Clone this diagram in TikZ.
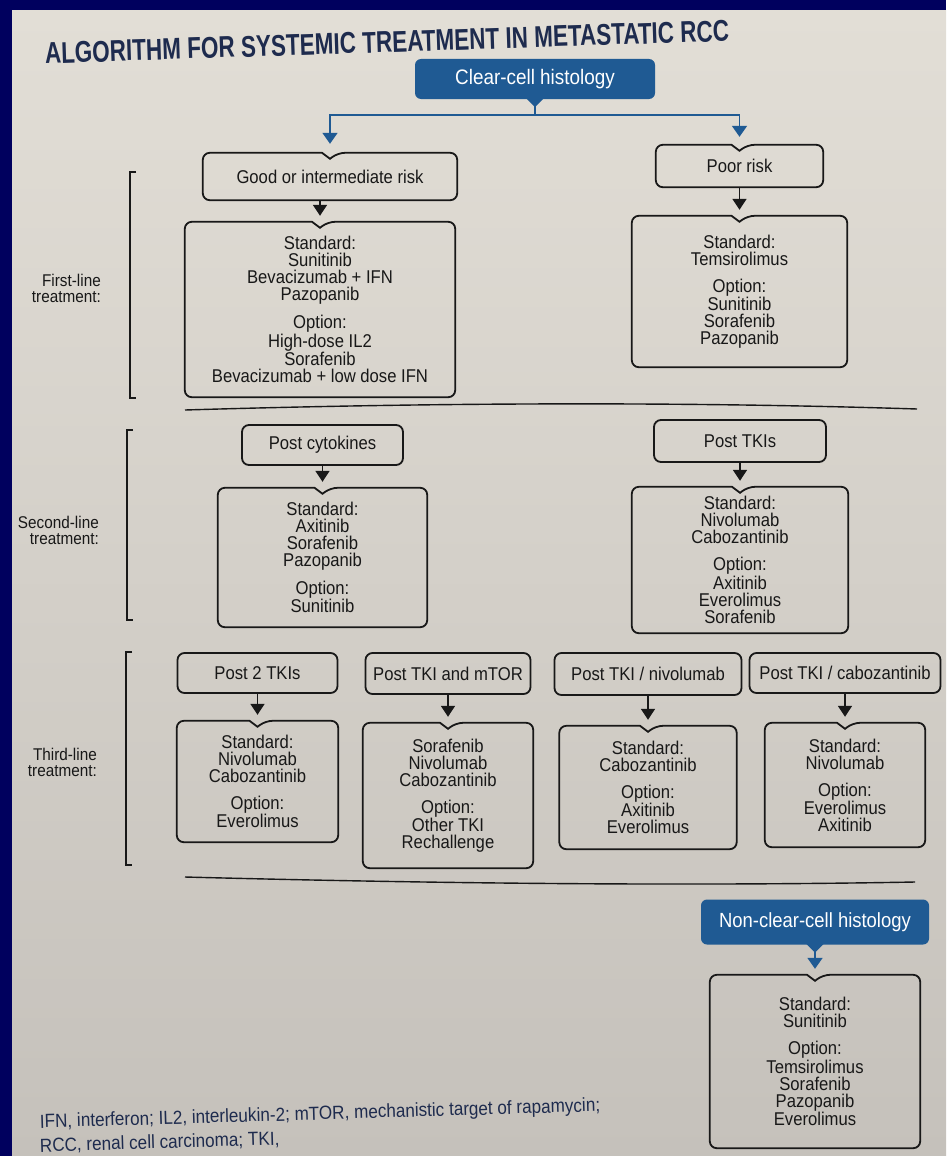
\documentclass[tikz,border=0pt]{standalone}
\usepackage{fontspec}
\setmainfont{Liberation Sans}[FakeStretch=0.9]
\newfontfamily\titlefont{Liberation Sans}[FakeStretch=0.75]
\usetikzlibrary{calc, arrows.meta}

\definecolor{navy}{HTML}{00005E}
\definecolor{paper}{HTML}{E2DED6}
\definecolor{paperdark}{HTML}{C5C1BB}
\definecolor{ccblue}{HTML}{1F5A93}
\definecolor{ink}{HTML}{181818}
\definecolor{titleink}{HTML}{1E2B4E}

\tikzset{
  boxline/.style={draw=ink, line width=1.8pt, rounded corners=7pt},
  hdr/.style={boxline, inner sep=0pt, font=\fontsize{18.5}{17}\selectfont, text=ink},
  txt/.style={inner sep=0pt, align=center, font=\fontsize{18.5}{17}\selectfont, text=ink},
  bluebox/.style={fill=ccblue, rounded corners=6pt, inner sep=0pt, text=white},
  arr/.style={draw=ink, line width=1.8pt, -{Triangle[width=14pt,length=11pt]}},
  bluearr/.style={draw=ccblue, line width=1.8pt, -{Triangle[width=15pt,length=11pt]}},
  side/.style={anchor=east, align=right, inner sep=0pt, font=\fontsize{17}{16}\selectfont, text=ink},
  foot/.style={anchor=base west, inner sep=0pt, font=\fontsize{19}{21}\selectfont, text=titleink, rotate=1.7},
}

% outline with a small notch at the top
\newcommand{\notchbox}[1]{%
  \draw[draw=ink, line width=1.8pt] ($(#1.north)+(-8,0)$) [rounded corners=7pt] -- (#1.north west) -- (#1.south west)
    -- (#1.south east) -- (#1.north east) -- ($(#1.north)+(8,0)$) [sharp corners] -- ($(#1.north)+(0,6)$) -- cycle;}

\begin{document}
\begin{tikzpicture}[x=1pt, y=-1pt]
    \clip (0,0) rectangle (946,1156);
    \fill[navy] (0,0) rectangle (946,1156);
    \shade[top color=paper, bottom color=paperdark] (12,11) rectangle (946,1156);

    \node[font=\titlefont\bfseries\fontsize{30}{32}\selectfont, text=titleink, rotate=1.9, inner sep=0pt] (title) at (387,42)
        {ALGORITHM FOR SYSTEMIC TREATMENT IN METASTATIC RCC};

    % first line
    \node[bluebox, font=\fontsize{21}{18}\selectfont, minimum width=240pt, minimum height=40pt] (clear) at (535,79) {Clear-cell histology};
    \node[txt, minimum width=254pt, minimum height=47pt] (good) at (330,176.5) {Good or intermediate risk};
    \node[txt, minimum width=270pt, minimum height=175pt] (goodtx) at (320,309.5)
        {Standard:\\Sunitinib\\Bevacizumab + IFN\\Pazopanib\\[10pt]Option:\\High-dose IL2\\Sorafenib\\Bevacizumab + low dose IFN};
    \node[txt, minimum width=167pt, minimum height=42pt] (poor) at (739.5,166) {Poor risk};
    \node[txt, minimum width=215pt, minimum height=151pt] (poortx) at (739.5,291.5)
        {Standard:\\Temsirolimus\\[10pt]Option:\\Sunitinib\\Sorafenib\\Pazopanib};

    % second line
    \node[hdr, minimum width=161pt, minimum height=40pt] (postcyt) at (322.5,445) {Post cytokines};
    \node[txt, minimum width=209pt, minimum height=139pt] (cyttx) at (322.5,557.5)
        {Standard:\\Axitinib\\Sorafenib\\Pazopanib\\[10pt]Option:\\Sunitinib};
    \node[hdr, minimum width=172pt, minimum height=42pt] (posttki) at (740,441) {Post TKIs};
    \node[txt, minimum width=216pt, minimum height=146pt] (tkitx) at (740,560)
        {Standard:\\Nivolumab\\Cabozantinib\\[10pt]Option:\\Axitinib\\Everolimus\\Sorafenib};

    % third line
    \node[hdr, minimum width=160pt, minimum height=40pt] (ptwo) at (257.5,673) {Post 2 TKIs};
    \node[txt, minimum width=161pt, minimum height=121pt] (ptwotx) at (257.5,781.5)
        {Standard:\\Nivolumab\\Cabozantinib\\[10pt]Option:\\Everolimus};
    \node[hdr, minimum width=165pt, minimum height=41pt] (ptm) at (448,673.5) {Post TKI and mTOR};
    \node[txt, minimum width=170pt, minimum height=145pt] (ptmtx) at (448,795.5)
        {Sorafenib\\Nivolumab\\Cabozantinib\\[10pt]Option:\\Other TKI\\Rechallenge};
    \node[hdr, minimum width=187pt, minimum height=42pt] (ptn) at (648,674) {Post TKI / nivolumab};
    \node[txt, minimum width=177pt, minimum height=123pt] (ptntx) at (648,787.5)
        {Standard:\\Cabozantinib\\[10pt]Option:\\Axitinib\\Everolimus};
    \node[hdr, minimum width=191pt, minimum height=40pt] (ptc) at (845,673) {Post TKI / cabozantinib};
    \node[txt, minimum width=160pt, minimum height=124pt] (ptctx) at (845,785)
        {Standard:\\Nivolumab\\[10pt]Option:\\Everolimus\\Axitinib};

    % non-clear-cell
    \node[bluebox, font=\fontsize{20.5}{18}\selectfont, minimum width=228pt, minimum height=45pt] (nonclear) at (815,922) {Non-clear-cell histology};
    \node[txt, minimum width=210pt, minimum height=173pt] (nonclrtx) at (815,1061.5)
        {Standard:\\Sunitinib\\[10pt]Option:\\Temsirolimus\\Sorafenib\\Pazopanib\\Everolimus};

    \foreach \n in {good, goodtx, poor, poortx, cyttx, tkitx, ptwotx, ptmtx, ptntx, ptctx, nonclrtx}
        \notchbox{\n};

    % blue pointers
    \foreach \b in {clear, nonclear}
        \fill[ccblue] ($(\b.south)+(-9,-1)$) -- ($(\b.south)+(9,-1)$) -- ($(\b.south)+(0,8)$) -- cycle;
    \coordinate (split) at ($(clear.south)+(0,16)$);
    \draw[draw=ccblue, line width=1.8pt] ($(clear.south)+(0,6)$) -- (split);
    \draw[bluearr] (split) -| ($(good.north)+(0,-9)$);
    \draw[bluearr] (split) -| ($(poor.north)+(0,-8)$);
    \draw[bluearr] ($(nonclear.south)+(0,6)$) -- ($(nonclrtx.north)+(0,-6)$);

    \foreach \a/\b in {good/goodtx, poor/poortx, postcyt/cyttx, posttki/tkitx, ptwo/ptwotx, ptm/ptmtx, ptn/ptntx, ptc/ptctx}
        \draw[arr] (\b.north |- \a.south) -- ($(\b.north)+(0,-6)$);

    % brackets and rules
    \foreach \bx/\ba/\bb in {130/172/398, 127/430/620, 126/652/865}
        \draw[ink, line width=1.2pt] (\bx+6,\ba) -- (\bx,\ba) -- (\bx,\bb) -- (\bx+6,\bb);
    \draw[ink, line width=1.4pt] (185,410) .. controls (450,402) and (700,402) .. (917,409);
    \draw[ink, line width=1.4pt] (185,877) .. controls (450,884) and (700,886) .. (915,882);

    \node[side] (lfirst) at (101,288) {First-line\\treatment:};
    \node[side] (lsecond) at (99,530) {Second-line\\treatment:};
    \node[side] (lthird) at (97,762) {Third-line\\treatment:};

    \node[foot] (legendA) at (40,1128) {IFN, interferon; IL2, interleukin-2; mTOR, mechanistic target of rapamycin;};
    \node[foot] (legendB) at (40,1152) {RCC, renal cell carcinoma; TKI,};
\end{tikzpicture}
\end{document}
